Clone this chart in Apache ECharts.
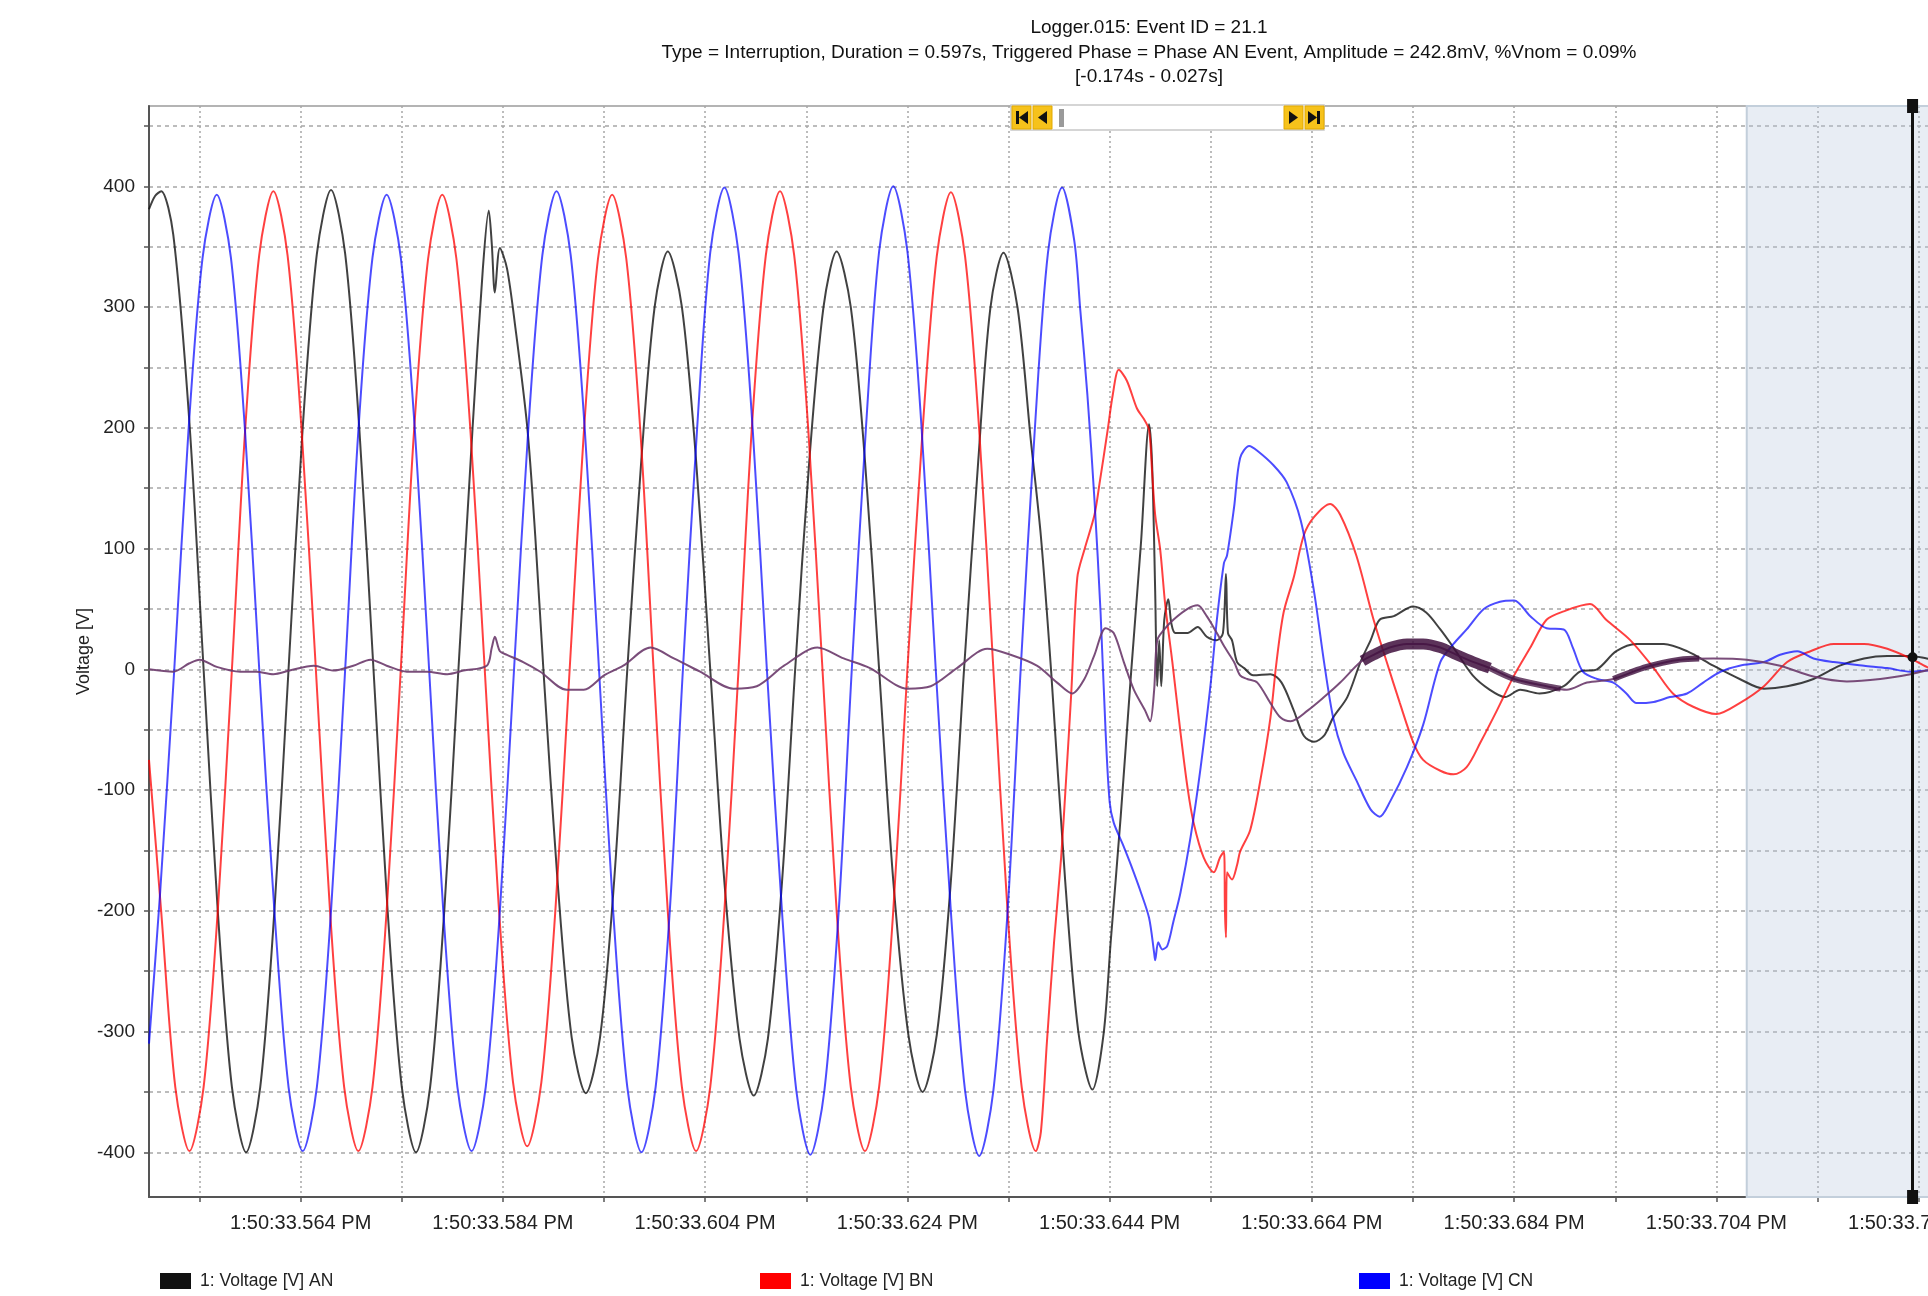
<!DOCTYPE html>
<html>
<head>
<meta charset="utf-8">
<title>Logger.015: Event ID = 21.1</title>
<script src="https://cdn.jsdelivr.net/npm/echarts@6/dist/echarts.min.js"></script>
<style>
  html, body { margin: 0; padding: 0; background: #fff; }
  #chart { width: 1928px; height: 1296px; }
</style>
</head>
<body>
<div id="chart"></div>
<script>
// time = ms after 1:50:33.000 PM, value = volts
const phaseAN = [
  [549.0, 381], [549.6, 392], [550.2, 396], [551.4, 360], [553.0, 204], [554.4, 0], [555.8, -200], [557.2, -346],
  [558.6, -400], [560.0, -346], [561.4, -200], [562.8, 0], [564.2, 200], [565.6, 344], [567.0, 397], [568.4, 344],
  [569.8, 199], [571.2, 0], [572.6, -200], [574.0, -346], [575.4, -400], [576.8, -346], [578.2, -200], [579.6, 0],
  [581.0, 200], [582.0, 330], [582.6, 380], [582.9, 352], [583.2, 312], [583.7, 349], [584.4, 332], [585.2, 285],
  [586.4, 201], [587.2, 110], [588.0, 0], [589.4, -175], [590.8, -305], [592.2, -351], [593.6, -305], [595.0, -175],
  [596.3, 0], [597.7, 175], [599.0, 300], [600.3, 346], [601.7, 300], [603.1, 173], [604.5, 0], [605.9, -176],
  [607.4, -306], [608.8, -353], [610.2, -306], [611.6, -176], [612.9, 0], [614.3, 173], [615.7, 300], [617.0, 346],
  [618.4, 300], [619.8, 173], [621.2, 0], [622.6, -175], [624.1, -303], [625.5, -350], [626.9, -303], [628.3, -175],
  [629.6, 0], [631.0, 172], [632.2, 299], [633.5, 345], [634.9, 299], [636.2, 190], [637.2, 110], [638.2, 0],
  [639.6, -175], [640.9, -300], [642.3, -348], [643.4, -302], [644.1, -226], [645.1, -121], [646.1, -5], [647.1, 105],
  [647.9, 203], [648.2, 169], [648.5, 65], [648.7, -14], [648.9, 24], [649.1, -14], [649.4, 41], [649.8, 58],
  [650.1, 38], [650.5, 30], [651.7, 30], [652.7, 35], [653.6, 27], [654.6, 24], [655.2, 30], [655.5, 79],
  [655.7, 30], [656.1, 24], [656.6, 6], [657.3, 1], [658.2, -5], [659.9, -4], [661.0, -11], [662.2, -34],
  [663.2, -55], [664.2, -60], [665.2, -55], [666.1, -40], [667.5, -23], [668.8, 6], [669.8, 24], [670.7, 41],
  [672.1, 44], [674.0, 52], [675.3, 47], [676.7, 33], [678.0, 18], [679.9, -5], [681.6, -17], [683.1, -23],
  [684.6, -17], [686.5, -20], [688.9, -14], [690.5, -2], [692.2, 0], [694.1, 15], [696.1, 21], [698.8, 21],
  [701.1, 15], [703.7, 3], [706.3, -8], [708.7, -16], [711.0, -14], [713.6, -8], [716.2, 3], [718.6, 9],
  [720.9, 11], [723.2, 11], [724.8, 9], [727.0, 6]
];

const phaseBN = [
  [549.0, -75], [550.2, -200], [551.6, -346], [553.0, -399], [554.4, -346], [555.8, -200], [557.2, 0], [558.5, 197],
  [559.9, 343], [561.3, 396], [562.7, 343], [564.1, 197], [565.5, 0], [566.9, -200], [568.3, -346], [569.7, -399],
  [571.1, -346], [572.5, -200], [573.9, 0], [575.2, 196], [576.6, 340], [578.0, 393], [579.4, 340], [580.8, 196],
  [582.2, 0], [583.6, -198], [585.0, -342], [586.4, -395], [587.8, -342], [589.2, -198], [590.6, 0], [592.0, 196],
  [593.4, 340], [594.8, 393], [596.2, 340], [597.6, 196], [598.9, 0], [600.3, -200], [601.7, -346], [603.1, -399],
  [604.5, -346], [605.9, -200], [607.3, 0], [608.6, 198], [610.0, 343], [611.4, 396], [612.8, 343], [614.2, 198],
  [615.6, 0], [617.0, -200], [618.4, -346], [619.8, -399], [621.2, -346], [622.6, -200], [624.0, 0], [625.5, 198],
  [626.9, 342], [628.3, 395], [629.7, 342], [631.1, 198], [632.5, 0], [633.9, -200], [635.3, -346], [636.7, -399],
  [637.2, -383], [637.8, -308], [638.5, -226], [639.2, -156], [639.7, -90], [640.2, -20], [640.8, 76], [641.5, 99],
  [642.5, 128], [643.0, 154], [643.8, 198], [644.3, 227], [644.9, 248], [645.7, 239], [646.7, 216], [647.4, 207],
  [647.9, 198], [648.2, 163], [648.5, 128], [649.0, 99], [649.5, 53], [650.2, 6], [651.0, -52], [651.7, -98],
  [652.3, -127], [653.3, -156], [654.3, -168], [654.9, -156], [655.3, -151], [655.4, -200], [655.5, -222], [655.6, -168],
  [656.1, -174], [656.6, -162], [656.9, -151], [657.9, -133], [658.9, -92], [659.9, -40], [660.5, 6], [661.2, 47],
  [662.2, 76], [663.2, 111], [664.2, 126], [665.8, 137], [666.8, 128], [668.4, 94], [670.1, 41], [671.4, 6],
  [672.7, -28], [674.0, -60], [675.0, -75], [676.7, -84], [678.0, -87], [679.3, -81], [680.7, -60], [682.3, -34],
  [684.0, -5], [685.6, 18], [687.2, 41], [688.9, 48], [691.5, 54], [693.1, 41], [695.5, 24], [697.8, 1],
  [699.7, -20], [701.7, -31], [704.0, -37], [706.3, -28], [708.7, -14], [711.0, 6], [713.3, 15], [715.6, 21],
  [718.6, 21], [720.9, 17], [723.2, 9], [724.8, 2], [727.0, -6]
];

const phaseCN = [
  [549.0, -310], [550.1, -185], [551.5, 0], [552.9, 197], [554.3, 341], [555.7, 393], [557.1, 341], [558.5, 197],
  [559.9, 0], [561.4, -200], [562.8, -346], [564.2, -399], [565.6, -346], [567.0, -200], [568.4, 0], [569.7, 197],
  [571.1, 341], [572.5, 393], [573.9, 341], [575.3, 197], [576.7, 0], [578.1, -200], [579.5, -346], [580.9, -399],
  [582.3, -346], [583.7, -200], [585.1, 0], [586.5, 198], [587.9, 343], [589.3, 396], [590.7, 343], [592.1, 198],
  [593.5, 0], [594.9, -200], [596.3, -346], [597.7, -400], [599.1, -346], [600.5, -200], [601.8, 0], [603.2, 199],
  [604.5, 345], [605.9, 399], [607.3, 345], [608.7, 199], [610.1, 0], [611.6, -201], [613.0, -348], [614.4, -402],
  [615.8, -348], [617.2, -201], [618.5, 0], [619.9, 200], [621.2, 346], [622.6, 400], [624.0, 346], [625.4, 200],
  [626.8, 0], [628.3, -201], [629.7, -349], [631.1, -403], [632.5, -349], [633.9, -201], [635.2, 0], [636.6, 199],
  [637.9, 345], [639.3, 399], [640.5, 355], [641.1, 297], [641.8, 227], [642.5, 140], [643.1, 47], [643.6, -52],
  [644.0, -110], [644.4, -127], [645.3, -145], [646.1, -162], [647.1, -185], [647.9, -206], [648.4, -235], [648.5, -241],
  [648.8, -226], [649.2, -232], [649.7, -229], [650.3, -209], [651.0, -185], [652.0, -139], [653.0, -81], [654.0, -11],
  [654.6, 41], [655.3, 88], [655.6, 94], [656.3, 134], [656.9, 175], [657.8, 185], [658.6, 181], [660.2, 169],
  [661.5, 155], [662.9, 123], [664.2, 65], [665.2, 6], [666.1, -40], [667.1, -69], [668.4, -92], [669.8, -116],
  [670.7, -122], [671.7, -110], [673.4, -81], [675.0, -46], [676.7, 6], [678.0, 21], [679.3, 33], [681.0, 50],
  [682.6, 56], [684.0, 57], [685.6, 44], [687.2, 34], [688.9, 33], [689.8, 18], [690.8, -2], [692.2, -8],
  [693.8, -11], [695.1, -20], [696.1, -28], [697.8, -27], [699.4, -23], [701.1, -20], [702.7, -11], [704.4, -2],
  [706.3, 3], [708.7, 6], [710.3, 12], [712.0, 15], [713.6, 9], [715.6, 6], [718.6, 3], [720.9, 1],
  [723.2, -2], [724.8, -1], [727.0, 0]
];

// fourth trace (purple), not in the visible legend
const residual = [
  [549.0, 0], [551.4, -2], [553.0, 5], [554.0, 8], [555.7, 2], [558.0, -2], [559.6, -2], [561.3, -4],
  [562.9, -1], [565.3, 3], [567.2, -1], [569.2, 3], [570.9, 8], [572.5, 3], [574.5, -2], [576.5, -2],
  [578.5, -4], [580.1, -1], [582.4, 3], [582.9, 18], [583.2, 27], [583.7, 15], [584.4, 12], [586.0, 6],
  [587.7, -2], [590.3, -17], [592.0, -17], [594.0, -5], [595.9, 3], [598.6, 18], [600.9, 9], [603.5, -2],
  [606.8, -16], [609.1, -14], [611.8, 3], [615.1, 18], [617.7, 9], [620.3, 1], [624.0, -16], [626.3, -14],
  [628.9, 1], [631.9, 17], [634.2, 12], [636.8, 3], [638.8, -11], [640.3, -20], [641.5, -8], [642.5, 12],
  [643.6, 34], [644.4, 30], [645.4, 6], [646.4, -17], [647.5, -34], [648.0, -43], [648.4, -17], [648.7, 24],
  [649.4, 33], [650.3, 41], [651.7, 50], [652.7, 53], [653.6, 44], [654.6, 30], [655.4, 18], [656.3, 6],
  [656.9, -5], [657.6, -8], [658.6, -11], [659.9, -28], [660.9, -40], [661.9, -43], [663.6, -34], [665.2, -23],
  [666.8, -11], [668.8, 6], [670.1, 12], [671.7, 18], [673.4, 21], [675.0, 21], [676.7, 18], [678.3, 12],
  [680.0, 6], [681.6, 1], [684.0, -8], [687.2, -14], [689.2, -17], [691.2, -11], [693.8, -8], [697.1, 2],
  [700.4, 8], [703.7, 9], [707.0, 8], [710.3, 3], [713.6, -6], [716.9, -10], [720.2, -8], [723.2, -4],
  [724.8, -1], [727.0, 1]
];

// dense ripple on the purple trace, drawn as a thick band
const rippleA = [[669.0, 7], [670.1, 12], [671.7, 18], [673.4, 21], [675.0, 21], [676.7, 18], [678.3, 12], [680.0, 6], [681.6, 1]];
const rippleB = [[681.6, 1], [684.0, -8], [687.2, -14], [688.6, -16]];
const rippleC = [[693.8, -8], [697.1, 2], [700.4, 8], [702.3, 9]];

const xTicks = [554, 564, 574, 584, 594, 604, 614, 624, 634, 644, 654, 664, 674, 684, 694, 704, 714, 724, 734, 744];
const xLabels = [564, 584, 604, 624, 644, 664, 684, 704, 724, 744];
const yTicks = [-400, -350, -300, -250, -200, -150, -100, -50, 0, 50, 100, 150, 200, 250, 300, 350, 400, 450];
const yLabels = [-400, -300, -200, -100, 0, 100, 200, 300, 400];

const titleLines = [
  'Logger.015: Event ID = 21.1',
  'Type = Interruption, Duration = 0.597s, Triggered Phase = Phase AN Event, Amplitude = 242.8mV, %Vnom = 0.09%',
  '[-0.174s - 0.027s]'
];
const names = ['1: Voltage [V] AN', '1: Voltage [V] BN', '1: Voltage [V] CN'];

const shadeStart = 707;
const cursorAt = 723.4;

const FONT = '"Liberation Sans", Arial, sans-serif';

var chart = echarts.init(document.getElementById('chart'));

function traceSeries(name, data, color, width, opacity) {
  return {
    name: name,
    type: 'line',
    data: data,
    showSymbol: false,
    smooth: 0.3,
    silent: true,
    itemStyle: { color: color },
    lineStyle: { color: color, width: width, opacity: opacity }
  };
}

function legendAt(name, left) {
  return {
    data: [name], left: left, top: 1267, icon: 'rect',
    itemWidth: 31, itemHeight: 16, selectedMode: false,
    textStyle: { fontSize: 17.5, color: '#222', fontFamily: FONT, padding: [0, 0, 0, 4] }
  };
}

var seriesAN = traceSeries(names[0], phaseAN, '#111111', 2, 0.8);
var seriesBN = traceSeries(names[1], phaseBN, '#ff0000', 2, 0.75);
var seriesCN = traceSeries(names[2], phaseCN, '#0000ff', 2, 0.7);
var seriesRes = traceSeries('1: Voltage [V] NG', residual, '#6b3a6b', 2, 0.9);

seriesCN.markArea = {
  silent: true,
  itemStyle: { color: 'rgba(185,200,222,0.33)', borderColor: '#c3cfdb', borderWidth: 2 },
  data: [[{ xAxis: shadeStart }, { xAxis: 745 }]]
};
seriesAN.markLine = {
  silent: true,
  symbol: ['rect', 'rect'],
  symbolSize: [11, 14],
  label: { show: false },
  lineStyle: { color: '#111', width: 3, type: 'solid' },
  data: [{ xAxis: cursorAt }]
};
seriesBN.markPoint = {
  silent: true,
  symbol: 'circle',
  symbolSize: 10,
  itemStyle: { color: '#111' },
  label: { show: false },
  data: [{ coord: [cursorAt, 10] }]
};

var graphics = titleLines.map(function (t, i) {
  return {
    type: 'text', x: 1149, y: [28, 53, 77][i], z: 10,
    style: { text: t, fill: '#111', font: '19px ' + FONT, align: 'center', verticalAlign: 'middle' }
  };
});

// navigation strip at the top of the plot
graphics.push(
  { type: 'rect', z: 20, shape: { x: 1011, y: 105, width: 313, height: 25 }, style: { fill: '#fff', stroke: '#c8c8c8', lineWidth: 1.5 } },
  { type: 'rect', z: 21, shape: { x: 1059, y: 109, width: 5, height: 18 }, style: { fill: '#9a9a9a' } },
  { type: 'rect', z: 21, shape: { x: 1012, y: 106, width: 19, height: 23 }, style: { fill: '#f6c21b', stroke: '#e2a900', lineWidth: 1 } },
  { type: 'rect', z: 21, shape: { x: 1033, y: 106, width: 19, height: 23 }, style: { fill: '#f6c21b', stroke: '#e2a900', lineWidth: 1 } },
  { type: 'rect', z: 21, shape: { x: 1284, y: 106, width: 19, height: 23 }, style: { fill: '#f6c21b', stroke: '#e2a900', lineWidth: 1 } },
  { type: 'rect', z: 21, shape: { x: 1305, y: 106, width: 19, height: 23 }, style: { fill: '#f6c21b', stroke: '#e2a900', lineWidth: 1 } },
  { type: 'rect', z: 22, shape: { x: 1016, y: 111, width: 3, height: 13 }, style: { fill: '#111' } },
  { type: 'polygon', z: 22, shape: { points: [[1028, 111], [1028, 124], [1019, 117.5]] }, style: { fill: '#111' } },
  { type: 'polygon', z: 22, shape: { points: [[1047, 111], [1047, 124], [1038, 117.5]] }, style: { fill: '#111' } },
  { type: 'polygon', z: 22, shape: { points: [[1289, 111], [1289, 124], [1298, 117.5]] }, style: { fill: '#111' } },
  { type: 'polygon', z: 22, shape: { points: [[1308, 111], [1308, 124], [1317, 117.5]] }, style: { fill: '#111' } },
  { type: 'rect', z: 22, shape: { x: 1317, y: 111, width: 3, height: 13 }, style: { fill: '#111' } }
);

var option = {
  animation: false,
  backgroundColor: '#fff',
  textStyle: { fontFamily: FONT },
  graphic: graphics,
  legend: [legendAt(names[0], 155), legendAt(names[1], 755), legendAt(names[2], 1354)],
  grid: {
    left: 149, top: 106, width: 1982, height: 1091,
    containLabel: false, outerBoundsMode: 'none',
    show: true, borderColor: '#b4b4b4', borderWidth: 2, backgroundColor: 'transparent'
  },
  xAxis: {
    type: 'value', min: 549, max: 745,
    axisLine: { onZero: false, lineStyle: { color: '#555', width: 2 } },
    axisTick: { customValues: xTicks, length: 5, lineStyle: { color: '#555', width: 1.5 } },
    axisLabel: {
      customValues: xLabels, margin: 16, fontSize: 20, color: '#222', fontFamily: FONT,
      formatter: function (v) { return '1:50:33.' + String(Math.round(v)).padStart(3, '0') + ' PM'; }
    },
    splitLine: { show: true, lineStyle: { color: '#a6a6a6', width: 1.5, type: [2, 3] } }
  },
  yAxis: {
    type: 'value', min: -437, max: 466.5,
    name: 'Voltage [V]', nameLocation: 'middle', nameGap: 56, nameMoveOverlap: false,
    nameTextStyle: { fontSize: 18, color: '#222', fontFamily: FONT },
    axisLine: { show: true, onZero: false, lineStyle: { color: '#555', width: 2 } },
    axisTick: { show: true, customValues: yTicks, length: 5, lineStyle: { color: '#555', width: 1.5 } },
    axisLabel: { customValues: yLabels, margin: 14, fontSize: 19, color: '#222', fontFamily: FONT },
    splitLine: { show: true, lineStyle: { color: '#a6a6a6', width: 1.5, type: [4, 4] } }
  },
  series: [
    seriesAN,
    seriesBN,
    seriesCN,
    seriesRes,
    traceSeries('rippleA', rippleA, '#3f0f3d', 11, 0.85),
    traceSeries('rippleB', rippleB, '#3f0f3d', 6, 0.75),
    traceSeries('rippleC', rippleC, '#3f0f3d', 6, 0.8)
  ]
};

chart.setOption(option);
</script>
</body>
</html>
